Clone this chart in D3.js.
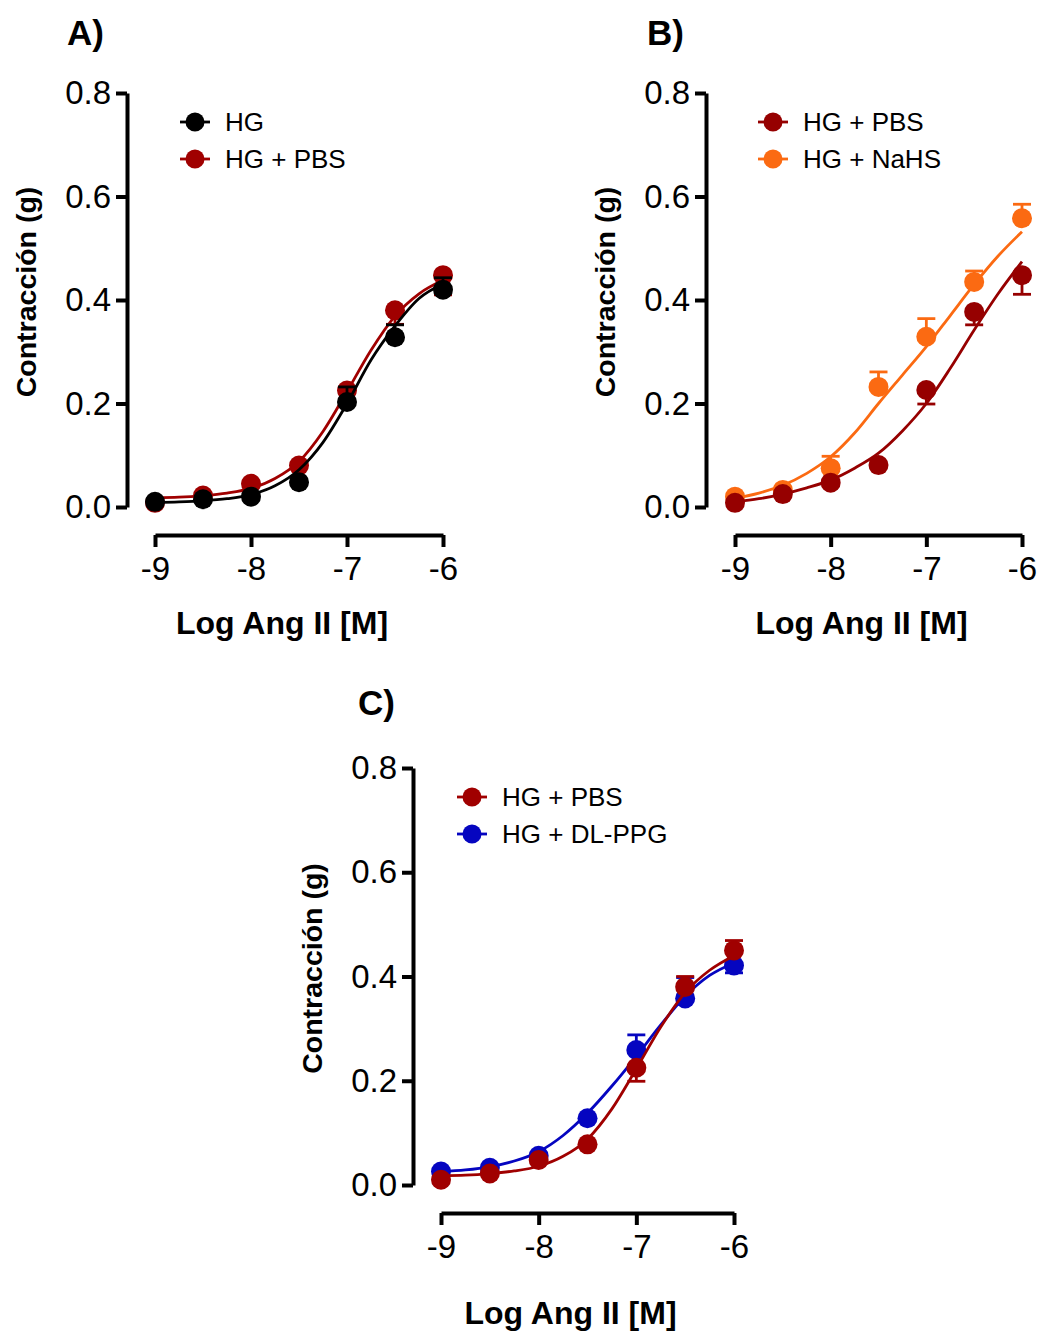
<!DOCTYPE html>
<html>
<head>
<meta charset="utf-8">
<script src="https://cdn.jsdelivr.net/npm/d3@7"></script>
<style>
  body { margin: 0; background: #fff; }
  svg { display: block; font-family: "Liberation Sans", Arial, sans-serif; }
</style>
</head>
<body>
<svg id="chart" width="1041" height="1331"></svg>
<script>
// doses (log M) for measured points and for the fitted curves
const doses = [-9, -8.5, -8, -7.5, -7, -6.5, -6];
const fitDoses = [-9, -8.75, -8.5, -8.25, -8, -7.75, -7.5, -7.25, -7, -6.75, -6.5, -6.25, -6];
const yTicks = [0, 0.2, 0.4, 0.6, 0.8];
const xTicks = [-9, -8, -7, -6];

// panel A
const hgA = [0.010, 0.015, 0.020, 0.048, 0.203, 0.328, 0.420];
const hgAUp = [0, 0, 0, 0, 0.029, 0.024, 0.023];
const hgAFit = [0.009, 0.010, 0.012, 0.016, 0.024, 0.041, 0.072, 0.125, 0.200, 0.284, 0.350, 0.403, 0.431];
const pbsA = [0.008, 0.022, 0.045, 0.080, 0.225, 0.380, 0.448];
const pbsADown = [0, 0, 0, 0, 0.026, 0.027, 0.038];
const pbsAFit = [0.018, 0.019, 0.022, 0.027, 0.036, 0.055, 0.088, 0.146, 0.223, 0.303, 0.369, 0.412, 0.438];

// panel B
const pbsB = [0.008, 0.025, 0.047, 0.081, 0.226, 0.377, 0.448];
const pbsBDown = [0, 0, 0, 0, 0.027, 0.025, 0.037];
const pbsBFit = [0.010, 0.016, 0.025, 0.037, 0.052, 0.075, 0.104, 0.147, 0.200, 0.268, 0.342, 0.412, 0.474];
const nahsB = [0.020, 0.033, 0.075, 0.232, 0.329, 0.435, 0.558];
const nahsBUp = [0, 0, 0.023, 0.029, 0.035, 0.021, 0.027];
const nahsBFit = [0.017, 0.027, 0.042, 0.065, 0.097, 0.143, 0.200, 0.255, 0.310, 0.370, 0.430, 0.485, 0.532];

// panel C
const pbsC = [0.010, 0.022, 0.048, 0.078, 0.225, 0.380, 0.450];
const pbsCUp = [0, 0, 0, 0, 0, 0.020, 0.019];
const pbsCDown = [0, 0, 0, 0, 0.026, 0, 0];
const pbsCFit = [0.018, 0.019, 0.022, 0.027, 0.036, 0.055, 0.088, 0.146, 0.223, 0.303, 0.369, 0.412, 0.440];
const ppgC = [0.026, 0.033, 0.056, 0.128, 0.259, 0.358, 0.421];
const ppgCUp = [0, 0, 0, 0, 0.029, 0.040, 0];
const ppgCDown = [0, 0, 0, 0, 0, 0, 0.014];
const ppgCFit = [0.026, 0.029, 0.035, 0.046, 0.064, 0.095, 0.138, 0.190, 0.247, 0.307, 0.362, 0.402, 0.426];

const RED = '#a00000', DARKRED = '#960000', ORANGE = '#fb6a12', BLUE = '#0505c0', BLACK = '#000';

const panels = [
  { label: 'A)', lx: 67, ly: 45, ax: 127, x0: 155, x1: 443, y0: 507, y1: 93, xAxisY: 535, titleDy: 99, legX: 195, legY: 122,
    series: [
      { name: 'HG + PBS', color: RED, y: pbsA, down: pbsADown, fit: pbsAFit },
      { name: 'HG', color: BLACK, y: hgA, up: hgAUp, fit: hgAFit }
    ],
    legend: ['HG', 'HG + PBS'] },
  { label: 'B)', lx: 647, ly: 45, ax: 706, x0: 735, x1: 1022, y0: 507, y1: 93, xAxisY: 535, titleDy: 99, legX: 773, legY: 122,
    series: [
      { name: 'HG + NaHS', color: ORANGE, y: nahsB, up: nahsBUp, fit: nahsBFit },
      { name: 'HG + PBS', color: DARKRED, y: pbsB, down: pbsBDown, fit: pbsBFit }
    ],
    legend: ['HG + PBS', 'HG + NaHS'] },
  { label: 'C)', lx: 358, ly: 715, ax: 413, x0: 441, x1: 734, y0: 1185, y1: 768, xAxisY: 1213, titleDy: 111, legX: 472, legY: 797,
    series: [
      { name: 'HG + DL-PPG', color: BLUE, y: ppgC, up: ppgCUp, down: ppgCDown, fit: ppgCFit },
      { name: 'HG + PBS', color: RED, y: pbsC, up: pbsCUp, down: pbsCDown, fit: pbsCFit }
    ],
    legend: ['HG + PBS', 'HG + DL-PPG'] }
];

const svg = d3.select('#chart');

panels.forEach(p => {
  const g = svg.append('g');
  const x = d3.scaleLinear().domain([-9, -6]).range([p.x0, p.x1]);
  const y = d3.scaleLinear().domain([0, 0.8]).range([p.y0, p.y1]);
  const colorOf = {};
  p.series.forEach(s => colorOf[s.name] = s.color);

  g.append('text').attr('x', p.lx).attr('y', p.ly)
    .attr('font-size', 35).attr('font-weight', 'bold').text(p.label);

  // y axis
  const yAxis = g.append('g').attr('transform', `translate(${p.ax},0)`)
    .call(d3.axisLeft(y).tickValues(yTicks).tickSize(11).tickSizeOuter(0).tickPadding(5)
      .tickFormat(d3.format('.1f')));
  // x axis
  const xAxis = g.append('g').attr('transform', `translate(0,${p.xAxisY})`)
    .call(d3.axisBottom(x).tickValues(xTicks).tickSize(12).tickSizeOuter(0).tickPadding(10)
      .tickFormat(d => String(d)));
  [yAxis, xAxis].forEach(a => {
    a.select('.domain').attr('stroke-width', 4).attr('stroke', '#000');
    a.selectAll('.tick line').attr('stroke-width', 4).attr('stroke', '#000');
    a.selectAll('.tick text').attr('font-size', 33).attr('fill', '#000')
      .attr('font-family', '"Liberation Sans", Arial, sans-serif');
  });

  // axis titles
  g.append('text')
    .attr('transform', `translate(${p.ax - 91},${(p.y0 + p.y1) / 2 - 8}) rotate(-90)`)
    .attr('text-anchor', 'middle').attr('font-size', 28.5).attr('font-weight', 'bold')
    .text('Contracción (g)');
  g.append('text')
    .attr('x', (p.x0 + p.x1) / 2 - 17).attr('y', p.xAxisY + p.titleDy)
    .attr('text-anchor', 'middle').attr('font-size', 32).attr('font-weight', 'bold')
    .text('Log Ang II [M]');

  const line = d3.line().x((d, i) => x(fitDoses[i])).y(d => y(d)).curve(d3.curveMonotoneX);

  p.series.forEach(s => {
    const sg = g.append('g');
    sg.append('path').datum(s.fit).attr('d', line)
      .attr('fill', 'none').attr('stroke', s.color).attr('stroke-width', 2.8);

    const bars = [];
    doses.forEach((d, i) => {
      if (s.up && s.up[i]) bars.push({ d, v: s.y[i], e: s.y[i] + s.up[i] });
      if (s.down && s.down[i]) bars.push({ d, v: s.y[i], e: s.y[i] - s.down[i] });
    });
    sg.selectAll('line.err').data(bars).join('line').attr('class', 'err')
      .attr('x1', b => x(b.d)).attr('x2', b => x(b.d))
      .attr('y1', b => y(b.v)).attr('y2', b => y(b.e))
      .attr('stroke', s.color).attr('stroke-width', 2.8);
    sg.selectAll('line.cap').data(bars).join('line').attr('class', 'cap')
      .attr('x1', b => x(b.d) - 9).attr('x2', b => x(b.d) + 9)
      .attr('y1', b => y(b.e)).attr('y2', b => y(b.e))
      .attr('stroke', s.color).attr('stroke-width', 2.8);

    sg.selectAll('circle').data(s.y).join('circle')
      .attr('cx', (v, i) => x(doses[i])).attr('cy', v => y(v)).attr('r', 10)
      .attr('fill', s.color);
  });

  // legend
  const leg = g.append('g');
  p.legend.forEach((name, i) => {
    const ly = p.legY + i * 37;
    leg.append('line').attr('x1', p.legX - 15).attr('x2', p.legX + 15)
      .attr('y1', ly).attr('y2', ly).attr('stroke', colorOf[name]).attr('stroke-width', 2.8);
    leg.append('circle').attr('cx', p.legX).attr('cy', ly).attr('r', 9.5).attr('fill', colorOf[name]);
    leg.append('text').attr('x', p.legX + 30).attr('y', ly + 9)
      .attr('font-size', 26).text(name);
  });
});
</script>
</body>
</html>
